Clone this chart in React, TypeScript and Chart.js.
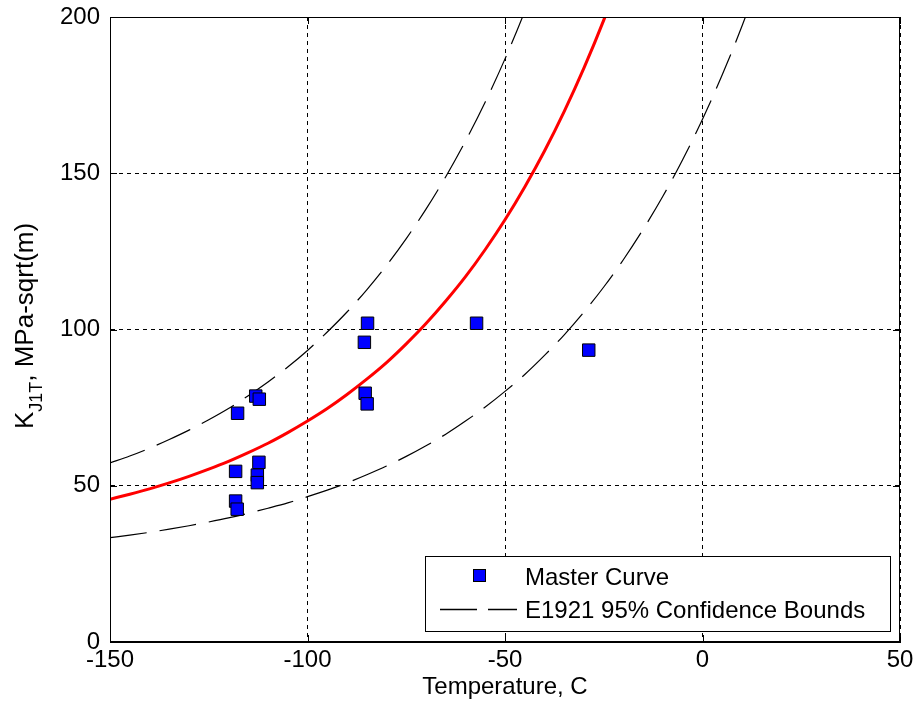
import React, { useEffect, useRef } from "react";
import { Chart, registerables } from "chart.js";

Chart.register(...registerables);

const FONT = "'Liberation Sans', Arial, Helvetica, sans-serif";

// Temperatures (C) at which the curves are read
const curveTemps = [
  -150, -145, -140, -135, -130, -125, -120, -115, -110, -105, -100, -95, -90,
  -85, -80, -75, -70, -65, -60, -55, -50, -45, -40, -35, -30, -25, -20, -15,
  -10, -5, 0, 5, 10, 15,
];
// Master curve (median), MPa-sqrt(m)
const masterCurve = [
  45.7, 47.3, 49.0, 50.9, 53.0, 55.3, 57.8, 60.6, 63.6, 67.0, 70.7, 74.7, 79.2,
  84.1, 89.4, 95.4, 101.9, 109.1, 116.9, 125.6, 135.1, 145.6, 157.1, 169.8,
  183.7, 199.0, 215.9,
];
// Upper 95% confidence bound
const upperBound = [
  57.3, 59.5, 62.0, 64.8, 67.8, 71.1, 74.7, 78.8, 83.2, 88.0, 93.3, 99.2, 105.6,
  112.7, 120.5, 129.1, 138.5, 148.9, 160.3, 172.8, 186.6, 201.8, 218.5,
];
// Lower 95% confidence bound
const lowerBound = [
  33.4, 34.2, 35.1, 36.1, 37.2, 38.4, 39.7, 41.2, 42.8, 44.5, 46.5, 48.6, 50.9,
  53.5, 56.3, 59.4, 62.8, 66.5, 70.7, 75.2, 80.2, 85.6, 91.7, 98.3, 105.6,
  113.6, 122.4, 132.1, 142.7, 154.4, 167.3, 181.5, 197.1, 214.2,
];
// Specimen data
const specimenTemps = [
  -84.8, -85.6, -113.1, -112.2, -117.7, -85.4, -84.9, -112.3, -118.2, -112.7,
  -112.7, -118.2, -117.8, -57.2, -28.8,
];
const specimenK = [
  102.0, 95.9, 78.7, 77.7, 73.2, 79.6, 76.2, 57.5, 54.6, 53.4, 51.0, 45.1, 42.5,
  102.0, 93.4,
];

const xMin = -150;
const xMax = 50;
const xStep = 50;
const yMin = 0;
const yMax = 200;
const yStep = 50;

const xTitle = "Temperature, C";
const yTitleMain = "K";
const yTitleSub = "J1T";
const yTitleRest = ", MPa-sqrt(m)";
const legendMarkerLabel = "Master Curve";
const legendLineLabel = "E1921 95% Confidence Bounds";

const BOUND_DASH = [37, 13];

const toPoints = (xs: number[], ys: number[]) =>
  ys.map((y, i) => ({ x: xs[i], y }));

const framePlugin = {
  id: "frame",
  afterDatasetsDraw(chart: any) {
    const { ctx, chartArea: a, scales } = chart;
    ctx.save();
    // box
    ctx.strokeStyle = "#000";
    ctx.lineWidth = 1;
    ctx.setLineDash([]);
    ctx.strokeRect(a.left + 0.5, a.top + 0.5, a.right - a.left - 1, a.bottom - a.top - 1);
    // inner ticks
    const tl = 7;
    ctx.beginPath();
    for (let v = xMin; v <= xMax; v += xStep) {
      const px = Math.round(scales.x.getPixelForValue(v)) + 0.5;
      ctx.moveTo(px, a.bottom);
      ctx.lineTo(px, a.bottom - tl);
      ctx.moveTo(px, a.top);
      ctx.lineTo(px, a.top + tl);
    }
    for (let v = yMin; v <= yMax; v += yStep) {
      const py = Math.round(scales.y.getPixelForValue(v)) + 0.5;
      ctx.moveTo(a.left, py);
      ctx.lineTo(a.left + tl, py);
      ctx.moveTo(a.right, py);
      ctx.lineTo(a.right - tl, py);
    }
    ctx.stroke();

    // legend
    const w = 465;
    const h = 75;
    const lx = a.right - 10 - w;
    const ly = a.bottom - 11 - h;
    ctx.fillStyle = "#fff";
    ctx.fillRect(lx, ly, w, h);
    ctx.strokeRect(lx + 0.5, ly + 0.5, w, h);
    const row1 = ly + 20;
    const row2 = ly + 53;
    // marker
    ctx.fillStyle = "#0000ff";
    ctx.fillRect(lx + 48, row1 - 7, 13, 13);
    ctx.strokeRect(lx + 48.5, row1 - 6.5, 12, 12);
    // dashed line
    ctx.beginPath();
    ctx.lineWidth = 1.5;
    ctx.setLineDash([37, 11]);
    ctx.moveTo(lx + 15, row2 + 0.5);
    ctx.lineTo(lx + 92, row2 + 0.5);
    ctx.stroke();
    ctx.setLineDash([]);
    ctx.fillStyle = "#000";
    ctx.font = `24px ${FONT}`;
    ctx.textBaseline = "middle";
    ctx.textAlign = "left";
    ctx.fillText(legendMarkerLabel, lx + 100, row1 + 2);
    ctx.fillText(legendLineLabel, lx + 100, row2 + 2);
    ctx.restore();
  },
  afterDraw(chart: any) {
    const { ctx, chartArea: a } = chart;
    ctx.save();
    ctx.fillStyle = "#000";
    ctx.textBaseline = "alphabetic";
    // x title
    ctx.font = `24px ${FONT}`;
    ctx.textAlign = "center";
    ctx.fillText(xTitle, (a.left + a.right) / 2, 694);
    // y title (rotated, with subscript)
    const big = `26px ${FONT}`;
    const small = `18px ${FONT}`;
    ctx.font = big;
    const w1 = ctx.measureText(yTitleMain).width;
    const w3 = ctx.measureText(yTitleRest).width;
    ctx.font = small;
    const w2 = ctx.measureText(yTitleSub).width;
    const total = w1 + w2 + w3;
    ctx.translate(33, 326);
    ctx.rotate(-Math.PI / 2);
    ctx.textAlign = "left";
    let x0 = -total / 2;
    ctx.font = big;
    ctx.fillText(yTitleMain, x0, 0);
    x0 += w1;
    ctx.font = small;
    ctx.fillText(yTitleSub, x0, 9);
    x0 += w2;
    ctx.font = big;
    ctx.fillText(yTitleRest, x0, 0);
    ctx.restore();
  },
};

export default function App() {
  const ref = useRef<HTMLCanvasElement | null>(null);
  useEffect(() => {
    if (!ref.current) return;
    const chart = new Chart(ref.current, {
      type: "scatter",
      data: {
        datasets: [
          {
            label: legendMarkerLabel,
            data: toPoints(specimenTemps, specimenK),
            pointStyle: "rect",
            pointRadius: 8.8,
            pointBackgroundColor: "#0000ff",
            pointBorderColor: "#000",
            pointBorderWidth: 1,
            showLine: false,
          },
          {
            label: "Master",
            data: toPoints(curveTemps, masterCurve),
            showLine: true,
            borderColor: "#ff0000",
            borderWidth: 3,
            pointRadius: 0,
            cubicInterpolationMode: "monotone",
          },
          {
            label: legendLineLabel,
            data: toPoints(curveTemps, upperBound),
            showLine: true,
            borderColor: "#000",
            borderWidth: 1.2,
            borderDash: BOUND_DASH,
            pointRadius: 0,
            cubicInterpolationMode: "monotone",
          },
          {
            label: "Lower",
            data: toPoints(curveTemps, lowerBound),
            showLine: true,
            borderColor: "#000",
            borderWidth: 1.2,
            borderDash: BOUND_DASH,
            pointRadius: 0,
            cubicInterpolationMode: "monotone",
          },
        ],
      },
      options: {
        responsive: false,
        animation: false,
        layout: { padding: { left: 0, right: 15, top: 17, bottom: 0 } },
        plugins: {
          legend: { display: false },
          tooltip: { enabled: false },
        },
        scales: {
          x: {
            type: "linear",
            min: xMin,
            max: xMax,
            ticks: {
              stepSize: xStep,
              color: "#000",
              font: { family: FONT, size: 24 },
              padding: 4,
              maxRotation: 0,
            },
            grid: { color: "#000", lineWidth: 1, drawTicks: false },
            border: { display: true, color: "#000", width: 1, dash: [4, 4] },
            afterFit: (s: any) => {
              s.height = 67;
              s.paddingLeft = 0;
              s.paddingRight = 0;
            },
          },
          y: {
            type: "linear",
            min: yMin,
            max: yMax,
            ticks: {
              stepSize: yStep,
              color: "#000",
              font: { family: FONT, size: 24 },
              padding: 10,
            },
            grid: { color: "#000", lineWidth: 1, drawTicks: false },
            border: { display: true, color: "#000", width: 1, dash: [4, 4] },
            afterFit: (s: any) => {
              s.width = 110;
              s.paddingTop = 0;
              s.paddingBottom = 0;
            },
          },
        },
      },
      plugins: [framePlugin],
    });
    return () => chart.destroy();
  }, []);
  return (
    <canvas
      ref={ref}
      width={915}
      height={709}
      style={{ position: "fixed", left: 0, top: 0, display: "block", background: "#fff" }}
    />
  );
}
